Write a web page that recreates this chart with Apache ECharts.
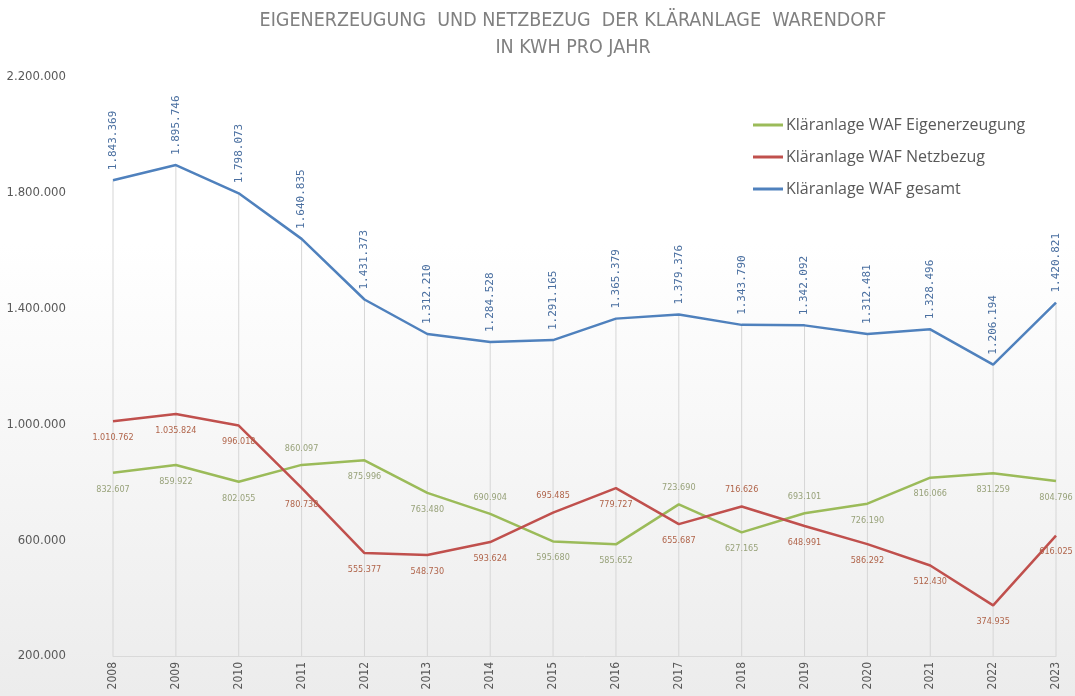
<!DOCTYPE html>
<html><head><meta charset="utf-8">
<script src="https://cdn.jsdelivr.net/npm/echarts@6/dist/echarts.min.js"></script>
<style>html,body{margin:0;padding:0;}#c{width:1075px;height:696px;}</style>
</head><body><div id="c"></div>
<script>
const years = ['2008','2009','2010','2011','2012','2013','2014','2015','2016','2017','2018','2019','2020','2021','2022','2023'];
const eigenerzeugung = [832607, 859922, 802055, 860097, 875996, 763480, 690904, 595680, 585652, 723690, 627165, 693101, 726190, 816066, 831259, 804796];
const netzbezug = [1010762, 1035824, 996018, 780738, 555377, 548730, 593624, 695485, 779727, 655687, 716626, 648991, 586292, 512430, 374935, 616025];
const gesamt = [1843369, 1895746, 1798073, 1640835, 1431373, 1312210, 1284528, 1291165, 1365379, 1379376, 1343790, 1342092, 1312481, 1328496, 1206194, 1420821];
const yLabels = ['200.000','600.000','1.000.000','1.400.000','1.800.000','2.200.000'];

const greenPos = ['bottom','bottom','bottom','top','bottom','bottom','top','bottom','bottom','top','bottom','top','bottom','bottom','bottom','bottom'];
const redPos = ['bottom','bottom','bottom','bottom','bottom','bottom','bottom','top','bottom','bottom','top','bottom','bottom','bottom','bottom','bottom'];

function fmt(v){ return String(v).replace(/\B(?=(\d{3})+(?!\d))/g, '.'); }

const chart = echarts.init(document.getElementById('c'));
const font = '"Liberation Sans Narrow","DejaVu Sans Condensed","Open Sans",sans-serif';
chart.setOption({
  backgroundColor: {type:'linear', x:0, y:0, x2:0, y2:1, colorStops:[{offset:0,color:'#ffffff'},{offset:0.35,color:'#ffffff'},{offset:1,color:'#ececec'}]},
  animation: false,
  title: {
    text: 'EIGENERZEUGUNG  UND NETZBEZUG  DER KLÄRANLAGE  WARENDORF\nIN KWH PRO JAHR',
    left: 568, top: 2, textAlign: 'center',
    textStyle: {fontFamily: font, fontWeight: 'normal', fontSize: 19.5, color: '#808080', lineHeight: 27}
  },
  legend: {
    orient: 'vertical', left: 748, top: 112, itemGap: 16, itemWidth: 30, itemHeight: 3,
    icon: 'rect',
    textStyle: {fontFamily: '"Open Sans",sans-serif', fontSize: 16, color: '#595959', padding:[0,0,0,-2]},
    data: ['Kläranlage WAF Eigenerzeugung','Kläranlage WAF Netzbezug','Kläranlage WAF gesamt']
  },
  grid: {left: 113, right: 19, top: 77, bottom: 40},
  xAxis: {
    type: 'category', data: years, boundaryGap: false,
    axisLine: {lineStyle: {color: '#d9d9d9'}}, axisTick: {show: false},
    axisLabel: {rotate: 90, color: '#595959', fontSize: 12, fontFamily: font, margin: 6},
    splitLine: {show: false}
  },
  yAxis: {
    type: 'value', min: 200000, max: 2200000, interval: 200000,
    axisLine: {show: false}, axisTick: {show: false}, splitLine: {show: false},
    axisLabel: {color: '#595959', fontSize: 13, fontFamily: font, margin: 47,
      formatter: function(v){ const s = fmt(v); return yLabels.indexOf(s) >= 0 ? s : ''; }}
  },
  series: [
    {
      name: 'drop', type: 'bar', data: gesamt, barWidth: 1, silent: true,
      itemStyle: {color: '#d6d6d6'}, z: 1, legendHoverLink: false
    },
    {
      name: 'Kläranlage WAF Eigenerzeugung', type: 'line', data: eigenerzeugung.map((v,i)=>({value:v, label:{position:greenPos[i]}})),
      showSymbol: true, symbol: 'circle', symbolSize: 0, color: '#9bbb59', lineStyle: {width: 2.5, color: '#9bbb59'}, z: 3,
      label: {show: true, formatter: p => fmt(p.value), fontSize: 9, fontFamily: font, color: '#98a27a', distance: 12}
    },
    {
      name: 'Kläranlage WAF Netzbezug', type: 'line', data: netzbezug.map((v,i)=>({value:v, label:{position:redPos[i]}})),
      showSymbol: true, symbol: 'circle', symbolSize: 0, color: '#c0504d', lineStyle: {width: 2.5, color: '#c0504d'}, z: 3,
      label: {show: true, formatter: p => fmt(p.value), fontSize: 9, fontFamily: font, color: '#b0644a', distance: 12}
    },
    {
      name: 'Kläranlage WAF gesamt', type: 'line', data: gesamt,
      showSymbol: true, symbol: 'circle', symbolSize: 0, color: '#4f81bd', lineStyle: {width: 2.5, color: '#4f81bd'}, z: 3,
      label: {show: true, position: 'top', rotate: 90, align: 'left', verticalAlign: 'middle', distance: 10,
        formatter: p => fmt(p.value), fontSize: 11, fontFamily: '"DejaVu Sans Mono",monospace', color: '#4a6fa0'}
    }
  ]
});
</script></body></html>
